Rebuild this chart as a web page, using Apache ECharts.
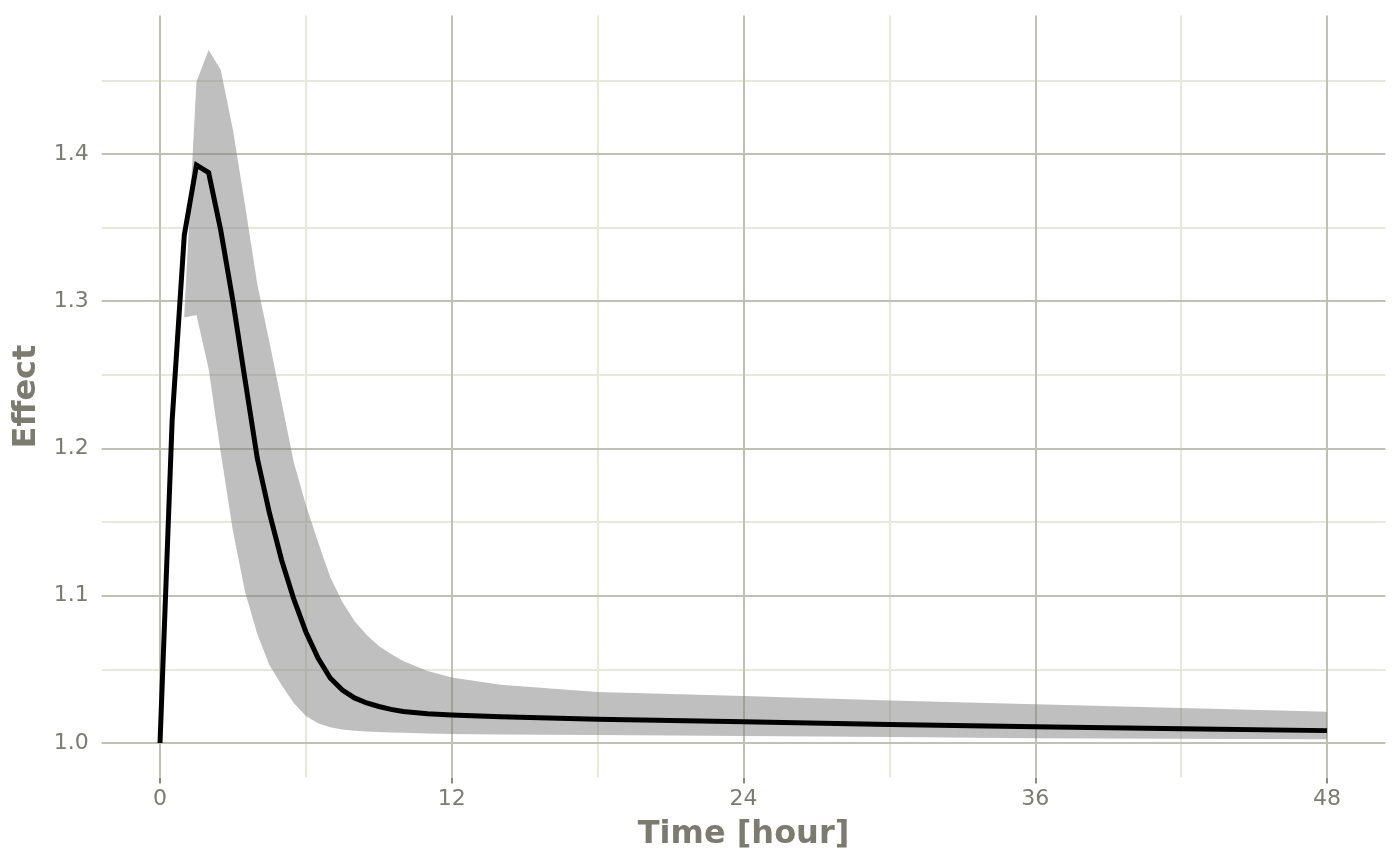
<!DOCTYPE html>
<html>
<head>
<meta charset="utf-8">
<script src="https://cdn.jsdelivr.net/npm/echarts@6/dist/echarts.min.js"></script>
<style>html,body{margin:0;padding:0;background:#fff;}#c{width:1400px;height:865px;}</style>
</head>
<body>
<div id="c"></div>
<script>
// Mean effect curve
var lineTime = [0,0.5,1,1.5,2,2.5,3,3.5,4,4.5,5,5.5,6,6.5,7,7.5,8,8.5,9,9.5,10,11,12,14,18,24,30,36,42,48];
var lineEffect = [1.0,1.2193,1.345,1.3925,1.3873,1.348,1.300,1.2465,1.1935,1.1562,1.1243,1.0978,1.0754,1.0577,1.0441,1.036,1.0306,1.0272,1.0248,1.0228,1.0214,1.0198,1.0190,1.0178,1.0161,1.0145,1.0126,1.0111,1.0097,1.0084];
// Ribbon (interval) bounds
var bandTime = [1,1.5,2,2.5,3,3.5,4,4.5,5,5.5,6,6.5,7,7.5,8,8.5,9,9.5,10,11,12,14,18,24,30,36,42,48];
var bandUpper = [1.291,1.449,1.4706,1.457,1.4163,1.365,1.3117,1.2723,1.2316,1.1908,1.1616,1.1365,1.1127,1.0958,1.0829,1.0734,1.0659,1.0605,1.0557,1.0489,1.0445,1.0396,1.0346,1.0319,1.0289,1.0263,1.0238,1.0213];
var bandLower = [1.289,1.2907,1.254,1.197,1.144,1.1025,1.074,1.053,1.0394,1.0272,1.0183,1.0134,1.0107,1.0092,1.0084,1.0078,1.0074,1.0071,1.0069,1.0065,1.0061,1.0058,1.0054,1.0048,1.0040,1.0032,1.0029,1.0025];
// Axis ticks / grid
var xMajor = [0,12,24,36,48];
var xMinor = [6,18,30,42];
var yMajor = [1.0,1.1,1.2,1.3,1.4];
var yMinor = [1.05,1.15,1.25,1.35,1.45];
var xLabelText = ['0','12','24','36','48'];

var majorColor = '#c0c0b3';
var minorColor = '#e7e7da';
var textColor = '#7b7b70';
var FONT = 'DejaVu Sans';

var gridLines = [];
xMinor.forEach(function(v){ gridLines.push({xAxis: v, lineStyle:{color:minorColor, width:2, type:'solid', opacity:1}}); });
yMinor.forEach(function(v){ gridLines.push({yAxis: v, lineStyle:{color:minorColor, width:2, type:'solid', opacity:1}}); });
xMajor.forEach(function(v){ gridLines.push({xAxis: v, lineStyle:{color:majorColor, width:2, type:'solid', opacity:1}}); });
yMajor.forEach(function(v){ gridLines.push({yAxis: v, lineStyle:{color:majorColor, width:2, type:'solid', opacity:1}}); });

var meanData = lineTime.map(function(t,i){ return [t, lineEffect[i]]; });

function renderBand(params, api) {
  var pts = [];
  for (var i = 0; i < bandTime.length; i++) pts.push(api.coord([bandTime[i], bandUpper[i]]));
  for (var j = bandTime.length - 1; j >= 0; j--) pts.push(api.coord([bandTime[j], bandLower[j]]));
  return {
    type: 'polygon',
    shape: {points: pts},
    style: {fill: 'rgba(127,127,127,0.5)', stroke: null}
  };
}

var chart = echarts.init(document.getElementById('c'), null, {renderer:'canvas'});
chart.setOption({
  animation: false,
  backgroundColor: '#ffffff',
  grid: {left: 101.65, top: 15.4, width: 1283.75, height: 762.2, containLabel: false},
  xAxis: {
    type: 'value', min: -2.4, max: 50.4,
    name: 'Time [hour]', nameLocation: 'middle', nameGap: 41,
    nameTextStyle: {fontFamily: FONT, fontSize: 32, fontWeight: 'bold', color: textColor},
    axisLine: {show: false},
    splitLine: {show: false},
    axisTick: {show: true, length: 6, customValues: xMajor, lineStyle: {color: '#8a8a80', width: 2}},
    axisLabel: {show: true, customValues: xMajor, margin: 11, fontFamily: FONT, fontSize: 22, color: textColor,
      formatter: function(v){ var i = xMajor.indexOf(v); return i >= 0 ? xLabelText[i] : ''; }}
  },
  yAxis: {
    type: 'value', min: 0.9765, max: 1.4941,
    name: 'Effect', nameLocation: 'middle', nameGap: 54, nameRotate: 90,
    nameTextStyle: {fontFamily: FONT, fontSize: 32, fontWeight: 'bold', color: textColor},
    axisLine: {show: false},
    splitLine: {show: false},
    axisTick: {show: true, length: 6, customValues: yMajor, lineStyle: {color: '#8a8a80', width: 2}},
    axisLabel: {show: true, customValues: yMajor, margin: 13, fontFamily: FONT, fontSize: 22, color: textColor,
      formatter: function(v){ return v.toFixed(1); }}
  },
  series: [
    {
      type: 'line', z: 1, silent: true, data: [[0, 1.0]], symbol: 'none',
      lineStyle: {opacity: 0},
      markLine: {silent: true, z: 1, symbol: ['none','none'], label: {show: false}, animation: false,
        lineStyle: {width: 2, type: 'solid', opacity: 1}, data: gridLines}
    },
    {
      type: 'custom', z: 2, silent: true, data: [[0, 1]],
      renderItem: renderBand
    },
    {
      type: 'line', z: 3, data: meanData, symbol: 'none', silent: true,
      lineStyle: {color: '#000000', width: 5, join: 'miter'}
    }
  ]
});
</script>
</body>
</html>
